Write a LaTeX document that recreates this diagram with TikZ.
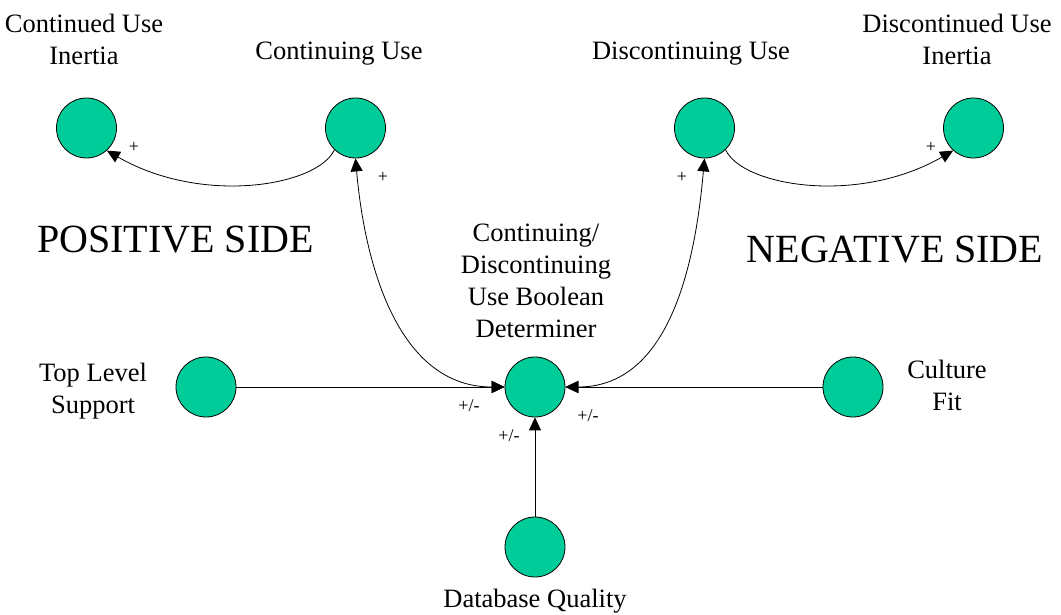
\documentclass[tikz,border=0pt]{standalone}
\usepackage{fontspec}
\setmainfont{Liberation Serif}
\usepackage{xcolor}
\usetikzlibrary{arrows.meta, positioning}

\definecolor{nodegreen}{RGB}{0,204,153}

\begin{document}
\begin{tikzpicture}[x=1pt, y=1pt]
	% Styles
	\tikzstyle{var} = [draw, circle, fill=nodegreen, line width=0.8pt, minimum size=60pt, inner sep=0pt]
	\tikzstyle{lbl} = [inner sep=0pt, align=center, font=\fontsize{26.5}{32}\selectfont]
	\tikzstyle{side} = [inner sep=0pt, anchor=base, font=\fontsize{40}{44}\selectfont]
	\tikzstyle{sign} = [inner sep=0pt, font=\fontsize{18}{20}\selectfont]
	\tikzstyle{arrow} = [line width=0.8pt, -{Triangle[length=13pt, width=12pt]}]
	\tikzstyle{twoway} = [line width=0.8pt, {Triangle[length=13pt, width=12pt]}-{Triangle[length=13pt, width=12pt]}]

	\useasboundingbox (0,0) rectangle (1061,615);

	% Nodes
	\node (inertiapos) [var] at (86.5,487) {};
	\node (contuse) [var] at (355.5,487) {};
	\node (discuse) [var] at (704.5,487) {};
	\node (inertianeg) [var] at (973.5,487) {};
	\node (determiner) [var] at (535,228) {};
	\node (toplevel) [var] at (206,228) {};
	\node (culture) [var] at (853,228) {};
	\node (dbquality) [var] at (535,68) {};

	% Labels
	\node (inertiaposlbl) [lbl, anchor=north] at (84,601) {Continued Use\\Inertia};
	\node (contuselbl) [lbl, anchor=base] at (339,555) {Continuing Use};
	\node (discuselbl) [lbl, anchor=base] at (691,555) {Discontinuing Use};
	\node (inertianeglbl) [lbl, anchor=north] at (957,601) {Discontinued Use\\Inertia};
	\node (determinerlbl) [lbl, anchor=north] at (536,391) {Continuing/\\Discontinuing\\Use Boolean\\Determiner};
	\node (toplevellbl) [lbl, anchor=north] at (93,252) {Top Level\\Support};
	\node (culturelbl) [lbl, anchor=north] at (947,255) {Culture\\Fit};
	\node (dbqualitylbl) [lbl, below=12pt of dbquality] {Database Quality};
	\node (possidelbl) [side] at (175.5,362) {POSITIVE SIDE};
	\node (negsidelbl) [side] at (895,352) {NEGATIVE SIDE};

	% Signs
	\node (sgnA) [sign] at (134,468) {+};
	\node (sgnB) [sign] at (383,438) {+};
	\node (sgnC) [sign] at (682,438) {+};
	\node (sgnD) [sign] at (931,468) {+};
	\node (sgnE) [sign] at (469,209) {+/-};
	\node (sgnF) [sign] at (588,199) {+/-};
	\node (sgnG) [sign] at (509,179) {+/-};

	% Connections
	\draw [arrow] (contuse.-134) .. controls +(-115:40) and +(-30:110) .. (inertiapos.-48);
	\draw [arrow] (discuse.-46) .. controls +(-65:40) and +(-150:110) .. (inertianeg.-132);
	\draw [twoway] (determiner.west) to[out=180, in=-85] (contuse.south);
	\draw [twoway] (determiner.east) to[out=0, in=-95] (discuse.south);
	\draw [arrow] (toplevel) -- (determiner);
	\draw [arrow] (culture) -- (determiner);
	\draw [arrow] (dbquality) -- (determiner);

\end{tikzpicture}
\end{document}
